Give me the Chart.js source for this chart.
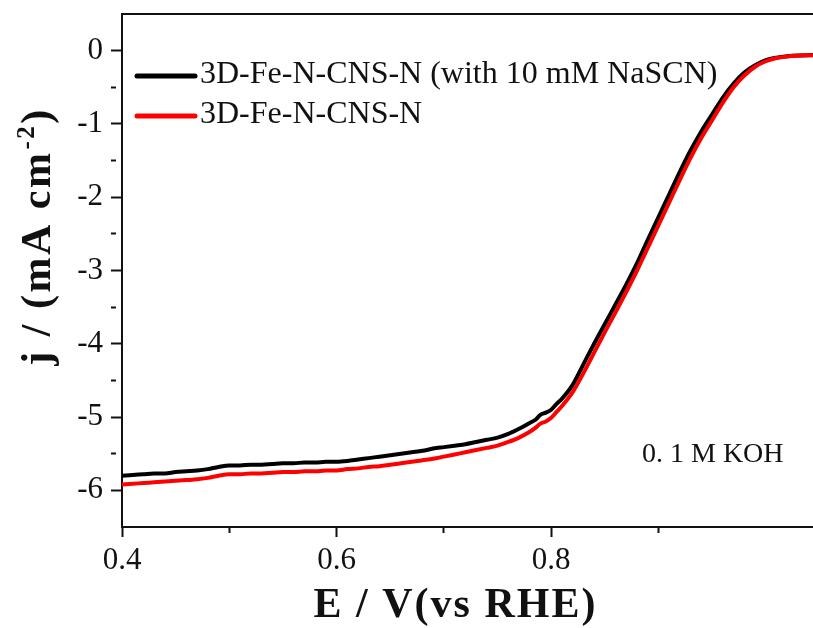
<!DOCTYPE html>
<html>
<head>
<meta charset="utf-8">
<script src="https://cdn.jsdelivr.net/npm/chart.js@4"></script>
<style>
  html, body { margin: 0; padding: 0; background: #ffffff; }
  #wrap { width: 813px; height: 628px; }
</style>
</head>
<body>
<div id="wrap"><canvas id="lsv" width="813" height="628"></canvas></div>
<script>
// Potential (V vs RHE) sampled for both LSV curves
const potential = [
  0.40, 0.41, 0.42, 0.43, 0.44, 0.45, 0.46, 0.47, 0.48, 0.49,
  0.50, 0.51, 0.52, 0.53, 0.54, 0.55, 0.56, 0.57, 0.58, 0.59,
  0.60, 0.61, 0.62, 0.63, 0.64, 0.65, 0.66, 0.67, 0.68, 0.69,
  0.70, 0.71, 0.72, 0.73, 0.74, 0.75, 0.76, 0.77, 0.78, 0.785,
  0.79, 0.795, 0.80, 0.805, 0.81, 0.82, 0.83, 0.84, 0.85, 0.86,
  0.87, 0.88, 0.89, 0.90, 0.91, 0.92, 0.93, 0.94, 0.95, 0.96,
  0.97, 0.98, 0.99, 1.00, 1.01, 1.02, 1.03, 1.044
];

// Current density (mA cm^-2), catalyst with 10 mM NaSCN added
const jWithSCN = [
  -5.80, -5.79, -5.78, -5.77, -5.77, -5.75, -5.74, -5.73, -5.71, -5.68,
  -5.66, -5.66, -5.65, -5.65, -5.64, -5.63, -5.63, -5.62, -5.62, -5.61,
  -5.61, -5.60, -5.58, -5.56, -5.54, -5.52, -5.50, -5.48, -5.46, -5.43,
  -5.41, -5.39, -5.37, -5.34, -5.31, -5.28, -5.23, -5.16, -5.08, -5.04,
  -4.97, -4.94, -4.90, -4.82, -4.75, -4.56, -4.28, -4.00, -3.73, -3.46,
  -3.19, -2.90, -2.58, -2.27, -1.96, -1.65, -1.36, -1.10, -0.87, -0.64,
  -0.45, -0.30, -0.20, -0.13, -0.095, -0.075, -0.065, -0.06
];

// Current density (mA cm^-2), bare catalyst
const jBare = [
  -5.92, -5.91, -5.90, -5.89, -5.88, -5.87, -5.86, -5.85, -5.83, -5.80,
  -5.78, -5.78, -5.77, -5.77, -5.76, -5.75, -5.75, -5.74, -5.74, -5.73,
  -5.73, -5.71, -5.70, -5.68, -5.67, -5.65, -5.63, -5.61, -5.59, -5.57,
  -5.54, -5.51, -5.48, -5.45, -5.42, -5.39, -5.34, -5.28, -5.20, -5.15,
  -5.09, -5.06, -5.01, -4.93, -4.85, -4.66, -4.40, -4.12, -3.84, -3.57,
  -3.29, -3.00, -2.69, -2.38, -2.07, -1.76, -1.46, -1.19, -0.95, -0.71,
  -0.50, -0.34, -0.22, -0.145, -0.10, -0.08, -0.07, -0.062
];

const seriesLabels = ['3D-Fe-N-CNS-N (with 10 mM NaSCN)', '3D-Fe-N-CNS-N'];
const seriesColors = ['#000000', '#ff0000'];
const electrolyteNote = '0. 1 M KOH';
const xTitle = 'E / V(vs RHE)';
const yTitleParts = ['j / (mA cm', '-2', ')'];

const xRange = [0.4, 1.044];
const yRange = [-6.5, 0.5];

const ink = '#111111';
const serif = '"Liberation Serif", "Times New Roman", serif';

const toPoints = ys => potential.map((x, i) => ({ x, y: ys[i] }));

// Axis titles, legend and electrolyte note
const annotations = {
  id: 'annotations',
  afterDraw(chart) {
    const ctx = chart.ctx;
    const area = chart.chartArea;
    ctx.save();
    ctx.fillStyle = ink;

    // x title
    ctx.font = 'bold 42px ' + serif;
    try { ctx.letterSpacing = '2px'; } catch (e) {}
    ctx.textAlign = 'center';
    ctx.textBaseline = 'alphabetic';
    ctx.fillText(xTitle, (area.left + area.right) / 2 - 12, 617);

    // y title (rotated, with superscript)
    ctx.save();
    ctx.translate(50, 237);
    ctx.rotate(-Math.PI / 2);
    ctx.textAlign = 'left';
    try { ctx.letterSpacing = '2.5px'; } catch (e) {}
    const bigFont = 'bold 42px ' + serif;
    const supFont = 'bold 25px ' + serif;
    ctx.font = bigFont;
    const w0 = ctx.measureText(yTitleParts[0]).width;
    const w2 = ctx.measureText(yTitleParts[2]).width;
    ctx.font = supFont;
    const w1 = ctx.measureText(yTitleParts[1]).width;
    let x = -(w0 + w1 + w2) / 2;
    ctx.font = bigFont;
    ctx.fillText(yTitleParts[0], x, 0);
    x += w0 + 1;
    ctx.font = supFont;
    ctx.fillText(yTitleParts[1], x, -16);
    x += w1;
    ctx.font = bigFont;
    ctx.fillText(yTitleParts[2], x, 0);
    ctx.restore();

    try { ctx.letterSpacing = '0px'; } catch (e) {}

    // legend
    chart.data.datasets.forEach((ds, i) => {
      const ly = 76 + i * 40;
      ctx.strokeStyle = ds.borderColor;
      ctx.lineWidth = 5;
      ctx.lineCap = 'round';
      ctx.beginPath();
      ctx.moveTo(137, ly);
      ctx.lineTo(195, ly);
      ctx.stroke();
      ctx.font = '32px ' + serif;
      ctx.textAlign = 'left';
      ctx.textBaseline = 'middle';
      ctx.fillStyle = ink;
      ctx.fillText(ds.label, 200, ly - 1);
    });

    // electrolyte note
    ctx.font = '28px ' + serif;
    ctx.textAlign = 'left';
    ctx.textBaseline = 'alphabetic';
    ctx.fillText(electrolyteNote, 642, 462);

    ctx.restore();
  }
};

const isWhole = (v, step) => Math.abs(v / step - Math.round(v / step)) < 1e-6;

new Chart(document.getElementById('lsv'), {
  type: 'line',
  data: {
    datasets: [
      {
        label: seriesLabels[0],
        data: toPoints(jWithSCN),
        borderColor: seriesColors[0],
        backgroundColor: seriesColors[0],
        borderWidth: 4,
        pointRadius: 0,
        cubicInterpolationMode: 'monotone',
        order: 2
      },
      {
        label: seriesLabels[1],
        data: toPoints(jBare),
        borderColor: seriesColors[1],
        backgroundColor: seriesColors[1],
        borderWidth: 4,
        pointRadius: 0,
        cubicInterpolationMode: 'monotone',
        order: 1
      }
    ]
  },
  options: {
    responsive: false,
    animation: false,
    devicePixelRatio: 1,
    layout: { padding: { left: 0, top: 14, right: 0, bottom: 0 } },
    plugins: {
      legend: { display: false },
      tooltip: { enabled: false }
    },
    scales: {
      x: {
        type: 'linear',
        position: 'bottom',
        min: xRange[0],
        max: xRange[1],
        afterBuildTicks(scale) {
          scale.ticks = scale.ticks.filter(t => isWhole(t.value, 0.1) && t.value <= 1.0001);
        },
        afterFit(scale) {
          scale.height = 101;
          scale.paddingLeft = 0;
          scale.paddingRight = 0;
        },
        ticks: {
          stepSize: 0.1,
          autoSkip: false,
          maxRotation: 0,
          padding: 5,
          color: ink,
          font: { family: serif, size: 31 },
          callback: v => (isWhole(v, 0.2) ? v.toFixed(1) : '')
        },
        grid: {
          drawOnChartArea: false,
          drawTicks: true,
          tickLength: 10,
          tickWidth: 2,
          tickColor: ink,
          tickBorderDash: c => (c.tick && !isWhole(c.tick.value, 0.2) ? [5, 40] : [])
        },
        border: { display: true, width: 2, color: ink }
      },
      xTop: {
        type: 'linear',
        position: 'top',
        min: xRange[0],
        max: xRange[1],
        afterFit(scale) {
          scale.height = 0;
          scale.paddingLeft = 0;
          scale.paddingRight = 0;
        },
        ticks: { display: false },
        grid: { drawOnChartArea: false, drawTicks: false },
        border: { display: true, width: 2, color: ink }
      },
      y: {
        type: 'linear',
        position: 'left',
        min: yRange[0],
        max: yRange[1],
        afterBuildTicks(scale) {
          scale.ticks = scale.ticks.filter(t => isWhole(t.value, 0.5) && t.value >= -6.0001 && t.value <= 0.0001);
        },
        afterFit(scale) {
          scale.width = 122;
          scale.paddingTop = 0;
          scale.paddingBottom = 0;
        },
        ticks: {
          stepSize: 0.5,
          autoSkip: false,
          padding: 8,
          color: ink,
          font: { family: serif, size: 31 },
          callback: v => (isWhole(v, 1) ? String(Math.round(v)) : '')
        },
        grid: {
          drawOnChartArea: false,
          drawTicks: true,
          tickLength: 11,
          tickWidth: 2,
          tickColor: ink,
          tickBorderDash: c => (c.tick && !isWhole(c.tick.value, 1) ? [5, 40] : [])
        },
        border: { display: true, width: 2, color: ink }
      }
    }
  },
  plugins: [annotations]
});
</script>
</body>
</html>
